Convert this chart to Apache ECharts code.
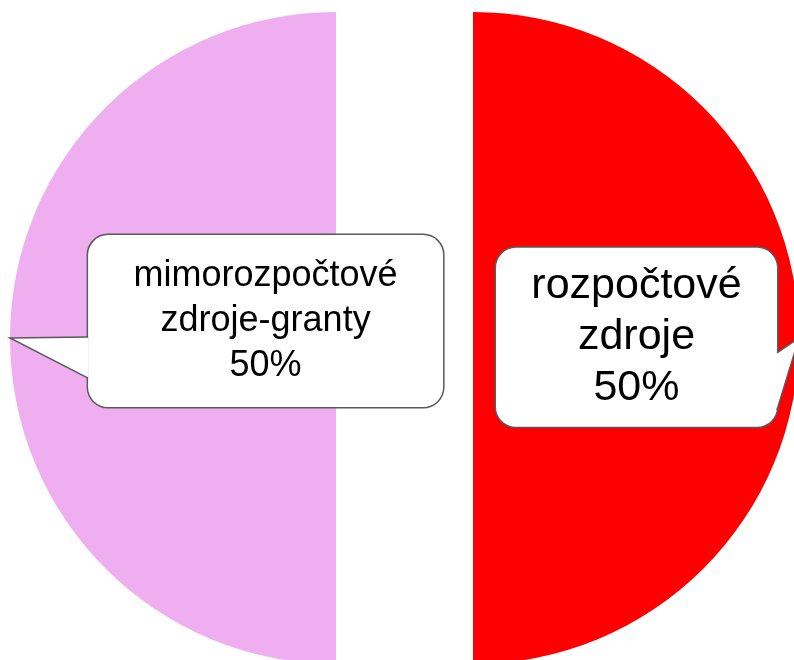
<!DOCTYPE html>
<html>
<head>
<meta charset="utf-8">
<script src="https://cdn.jsdelivr.net/npm/echarts@6/dist/echarts.min.js"></script>
<style>
html,body{margin:0;padding:0;background:#fff;}
#chart{width:794px;height:660px;}
</style>
</head>
<body>
<div id="chart"></div>
<script>
// Data
var categories = ['rozpočtové\nzdroje', 'mimorozpočtové\nzdroje-granty'];
var values = [50, 50];

// Styles
var sliceColors = ['#FF0000', '#EFAEEF'];
var pieCenters = [[473, 338], [336, 338]];
var pieRadius = 326;
var labelFont = [43, 36];
var labelLH = [51, 45];
var boxW = [281, 355];
var boxPadV = [13, 18.5];
// label box centre as fraction of the slice bounding rect
var boxFx = [0.5015, 0.784];
var boxFy = [0.499, 0.474];
// wedge attach points (offset from box centre, along the box side)
var wedgeY = [[15.5, 72.5], [16, 57]];
var borderCol = '#5a5a5a';

var chart = echarts.init(document.getElementById('chart'), null, {renderer: 'canvas'});

function makeSeries(k) {
  // slice k visible; the other slice is an invisible placeholder so each half keeps its angle
  var d = categories.map(function (c, i) {
    if (i === k) {
      return {
        name: c,
        value: values[i],
        itemStyle: {color: sliceColors[i]},
        label: {
          show: true,
          fontSize: labelFont[i],
          lineHeight: labelLH[i],
          width: boxW[i],
          padding: [boxPadV[i], 0]
        },
        labelLine: {show: true}
      };
    }
    return {
      name: '',
      value: values[i],
      itemStyle: {color: 'rgba(0,0,0,0)'},
      label: {show: false},
      labelLine: {show: false}
    };
  });
  return {
    type: 'pie',
    silent: true,
    center: pieCenters[k],
    radius: pieRadius,
    startAngle: 90,
    clockwise: true,
    avoidLabelOverlap: false,
    data: d,
    itemStyle: {borderWidth: 0},
    label: {
      position: 'outside',
      formatter: function (p) { return p.name + '\n' + Math.round(p.percent) + '%'; },
      color: '#000',
      fontFamily: 'Liberation Sans, Arial, sans-serif',
      align: 'center',
      backgroundColor: '#fff',
      borderColor: borderCol,
      borderWidth: 1.5,
      borderRadius: 20
    },
    labelLine: {
      show: true,
      showAbove: true,
      smooth: false,
      lineStyle: {color: borderCol, width: 1.5}
    },
    emphasis: {disabled: true},
    labelLayout: function (p) {
      if (p.dataIndex !== k) return {};
      var r = p.rect;
      var cx = r.x + r.width * boxFx[k];
      var cy = r.y + r.height * boxFy[k];
      var tipY = r.y + r.height / 2;
      var side = k === 0 ? 1 : -1;
      var bx = cx + side * boxW[k] / 2;
      var tipX = k === 0 ? r.x + r.width : r.x;
      return {
        x: cx,
        y: cy,
        align: 'center',
        verticalAlign: 'middle',
        labelLinePoints: [[bx, cy + wedgeY[k][0]], [tipX, tipY], [bx, cy + wedgeY[k][1]]]
      };
    }
  };
}

chart.setOption({
  animation: false,
  series: [makeSeries(1), makeSeries(0)]
});

// speech-bubble tails: lift the callout pointers above the slices and boxes, filled white
try {
  var zr = chart.getZr();
  zr.storage.getDisplayList(true).forEach(function (el) {
    if (el.type === 'polyline') {
      el.z2 = 10;
      el.setStyle('fill', '#fff');
      el.markRedraw();
    }
  });
  zr.refreshImmediately();
} catch (e) {}
</script>
</body>
</html>
